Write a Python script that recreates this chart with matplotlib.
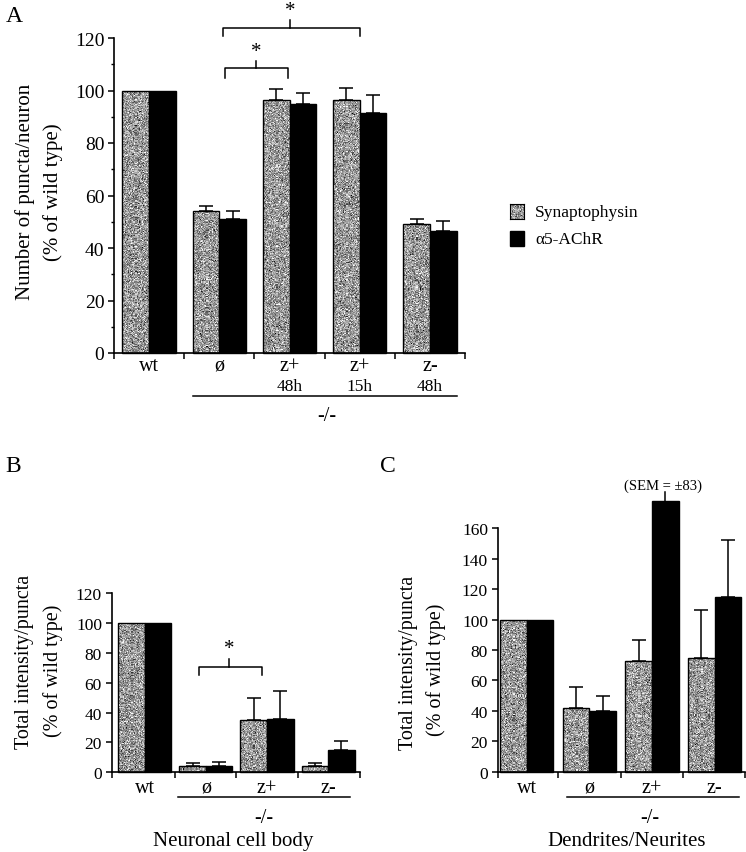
import numpy as np
import matplotlib
matplotlib.use('Agg')
import matplotlib.pyplot as plt
from matplotlib.ticker import MultipleLocator
from matplotlib.patches import Rectangle

plt.rcParams['font.family'] = ['Liberation Serif', 'DejaVu Serif']

W, H = 746, 853
fig = plt.figure(figsize=(W / 100, H / 100), dpi=100)

# ---------------- data ----------------
a_groups = ['wt', 'ø', 'z+', 'z+', 'z-']
a_sub = ['', '', '48h', '15h', '48h']
a_syn = [100, 54, 96.5, 96.5, 49]
a_syn_err = [0, 2, 4, 4.6, 2]
a_achr = [100, 51, 95, 91.5, 46.5]
a_achr_err = [0, 3, 4.2, 6.7, 3.7]

b_groups = ['wt', 'ø', 'z+', 'z-']
b_syn = [100, 4, 35, 4]
b_syn_err = [0, 2.5, 15, 2]
b_achr = [100, 4.5, 35.7, 15]
b_achr_err = [0, 2.2, 18.6, 6]

c_groups = ['wt', 'ø', 'z+', 'z-']
c_syn = [100, 42, 73, 75]
c_syn_err = [0, 14, 13.6, 31.6]
c_achr = [100, 40, 178, 115]
c_achr_err = [0, 9.7, 0, 37.3]
c_sem_note = 83

series_names = ['Synaptophysin', 'α5-AChR']

rng = np.random.default_rng(3)


def noise(h, w):
    # stippled grey texture of the Synaptophysin bars (style only)
    return np.clip(0.60 + 0.17 * rng.standard_normal((h, w)), 0, 1)


def px_axes(left, right, top, bottom):
    return fig.add_axes([left / W, 1 - bottom / H, (right - left) / W, (bottom - top) / H])


def stipple(ax, bars):
    for b in bars:
        x0, y0 = b.get_x(), b.get_y()
        w, h = b.get_width(), b.get_height()
        p0 = ax.transData.transform((x0, y0))
        p1 = ax.transData.transform((x0 + w, y0 + h))
        nw = max(int(abs(p1[0] - p0[0])), 2)
        nh = max(int(abs(p1[1] - p0[1])), 2)
        im = ax.imshow(noise(nh, nw), cmap='gray', vmin=0, vmax=1,
                       extent=[x0, x0 + w, y0, y0 + h], aspect='auto',
                       interpolation='nearest', zorder=2)
        im.set_clip_path(b)


def panel(ax, groups, syn, syn_err, achr, achr_err, bw, xlim, ylim, major,
          minor=None, ytick_fs=14):
    x = np.arange(len(groups))
    ax.set_xlim(*xlim)
    ax.set_ylim(*ylim)
    b1 = ax.bar(x - bw / 2, syn, bw, facecolor='none', edgecolor='black',
                linewidth=1, zorder=3, clip_on=False)
    b2 = ax.bar(x + bw / 2, achr, bw, facecolor='black', edgecolor='black',
                linewidth=1, zorder=3, clip_on=False)
    stipple(ax, b1)
    for xs, v, e, cs in [(x - bw / 2, syn, syn_err, 5), (x + bw / 2, achr, achr_err, 5)]:
        e = np.asarray(e, float)
        m = e > 0
        ax.errorbar(xs[m], np.asarray(v)[m], yerr=[np.zeros(m.sum()), e[m]],
                    fmt='none', ecolor='black', elinewidth=1.1, capsize=cs,
                    capthick=1.1, zorder=4, clip_on=False)
    ax.set_xlim(*xlim)
    ax.set_ylim(*ylim)
    for s in ['top', 'right']:
        ax.spines[s].set_visible(False)
    for s in ['left', 'bottom']:
        ax.spines[s].set_linewidth(1.2)
    ax.yaxis.set_major_locator(MultipleLocator(major))
    if minor:
        ax.yaxis.set_minor_locator(MultipleLocator(minor))
    ax.tick_params(axis='y', which='major', direction='out', length=4, width=1.1,
                   labelsize=ytick_fs, pad=3)
    ax.tick_params(axis='y', which='minor', direction='out', length=2.5, width=1)
    bounds = [xlim[0]] + list(np.arange(len(groups) - 1) + 0.5) + [xlim[1]]
    ax.set_xticks(bounds)
    ax.set_xticklabels([])
    ax.tick_params(axis='x', which='major', direction='out', length=4, width=1.1)
    ax.set_xticks([], minor=True)
    return x


# ---------------- panel A ----------------
axA = px_axes(114, 465, 39, 354)
xA = panel(axA, a_groups, a_syn, a_syn_err, a_achr, a_achr_err, 0.38,
           (-0.5, 4.5), (0, 120), 20, 10, ytick_fs=14)
for i, (g, s) in enumerate(zip(a_groups, a_sub)):
    axA.text(i, -4.6, g, ha='center', va='center', fontsize=14.5, clip_on=False)
    if s:
        axA.text(i, -12.4, s, ha='center', va='center', fontsize=12.5, clip_on=False)
axA.plot([0.63, 4.39], [-16.3, -16.3], color='black', lw=1.1, clip_on=False)
axA.text(2.53, -24, '-/-', ha='center', va='center', fontsize=14.5, clip_on=False)
# significance brackets
axA.plot([1.08, 1.08, 1.98, 1.98], [104.8, 108.6, 108.6, 104.8], color='black', lw=1.1, clip_on=False)
axA.plot([1.52, 1.52], [108.6, 111.3], color='black', lw=1.1, clip_on=False)
axA.text(1.52, 115.0, '*', ha='center', va='center', fontsize=15, clip_on=False)
axA.plot([1.05, 1.05, 3.01, 3.01], [120.8, 123.8, 123.8, 120.8], color='black', lw=1.1, clip_on=False)
axA.plot([2.01, 2.01], [123.8, 126.9], color='black', lw=1.1, clip_on=False)
axA.text(2.01, 130.5, '*', ha='center', va='center', fontsize=15, clip_on=False)

fig.text(25 / W, 1 - 192 / H, 'Number of puncta/neuron', rotation=90,
         ha='center', va='center', fontsize=15)
fig.text(53 / W, 1 - 192 / H, '(% of wild type)', rotation=90,
         ha='center', va='center', fontsize=15)
fig.text(14 / W, 1 - 16 / H, 'A', ha='center', va='center', fontsize=17)

# legend
lg = fig.add_axes([510 / W, 1 - 220 / H, 14 / W, 15 / H])
lg.imshow(noise(15, 14), cmap='gray', vmin=0, vmax=1, aspect='auto', interpolation='nearest')
lg.set_xticks([]); lg.set_yticks([])
for s in lg.spines.values():
    s.set_linewidth(0.8)
fig.add_artist(Rectangle((510 / W, 1 - 247 / H), 14 / W, 15 / H,
                         transform=fig.transFigure, facecolor='black', edgecolor='black'))
fig.text(535 / W, 1 - 213 / H, series_names[0], ha='left', va='center', fontsize=12.5)
fig.text(535 / W, 1 - 240 / H, series_names[1], ha='left', va='center', fontsize=12.5)

# ---------------- panel B ----------------
axB = px_axes(111.7, 360, 594.3, 773.3)
xB = panel(axB, b_groups, b_syn, b_syn_err, b_achr, b_achr_err, 0.435,
           (-0.54, 3.52), (0, 120), 20, None, ytick_fs=12.5)
for i, g in enumerate(b_groups):
    axB.text(i, -9.9, g, ha='center', va='center', fontsize=14.5, clip_on=False)
axB.plot([0.54, 3.36], [-16.8, -16.8], color='black', lw=1.1, clip_on=False)
axB.text(1.94, -30, '-/-', ha='center', va='center', fontsize=14.5, clip_on=False)
axB.text(1.45, -45.8, 'Neuronal cell body', ha='center', va='center', fontsize=15, clip_on=False)
axB.plot([0.88, 0.88, 1.91, 1.91], [65.2, 70.8, 70.8, 65.2], color='black', lw=1.1, clip_on=False)
axB.plot([1.385, 1.385], [70.8, 75.9], color='black', lw=1.1, clip_on=False)
axB.text(1.385, 83.0, '*', ha='center', va='center', fontsize=15, clip_on=False)
fig.text(25 / W, 1 - 662 / H, 'Total intensity/puncta', rotation=90,
         ha='center', va='center', fontsize=14.5)
fig.text(53 / W, 1 - 671 / H, '(% of wild type)', rotation=90,
         ha='center', va='center', fontsize=14.5)
fig.text(13 / W, 1 - 467 / H, 'B', ha='center', va='center', fontsize=17)

# ---------------- panel C ----------------
axC = px_axes(497.7, 745, 529.3, 772.7)
xC = panel(axC, c_groups, c_syn, c_syn_err, c_achr, c_achr_err, 0.425,
           (-0.463, 3.483), (0, 160), 20, None, ytick_fs=12.5)
for i, g in enumerate(c_groups):
    axC.text(i, -10.1, g, ha='center', va='center', fontsize=14.5, clip_on=False)
axC.plot([0.64, 3.38], [-16.8, -16.8], color='black', lw=1.1, clip_on=False)
axC.text(1.97, -29.8, '-/-', ha='center', va='center', fontsize=14.5, clip_on=False)
axC.text(1.6, -45.4, 'Dendrites/Neurites', ha='center', va='center', fontsize=15, clip_on=False)
xs = 2 + 0.425 / 2
axC.plot([xs, xs], [c_achr[2], c_achr[2] + 5.7], color='black', lw=1.1, clip_on=False)
axC.text(xs - 0.03, 188.5, f'(SEM = ±{c_sem_note})', ha='center', va='center',
         fontsize=10.5, clip_on=False)
fig.text(408 / W, 1 - 663 / H, 'Total intensity/puncta', rotation=90,
         ha='center', va='center', fontsize=14.5)
fig.text(436.5 / W, 1 - 670 / H, '(% of wild type)', rotation=90,
         ha='center', va='center', fontsize=14.5)
fig.text(388 / W, 1 - 467 / H, 'C', ha='center', va='center', fontsize=17)

fig.savefig('out.png', dpi=100)
